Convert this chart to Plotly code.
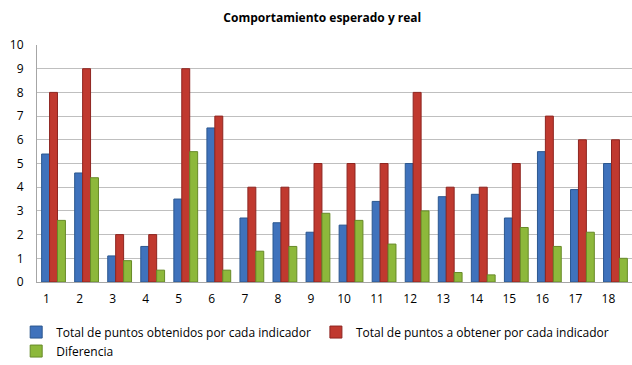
import plotly.graph_objects as go

categories = [str(i) for i in range(1, 19)]
obtenidos = [5.4, 4.6, 1.1, 1.5, 3.5, 6.5, 2.7, 2.5, 2.1, 2.4, 3.4, 5.0, 3.6, 3.7, 2.7, 5.5, 3.9, 5.0]
a_obtener = [8, 9, 2, 2, 9, 7, 4, 4, 5, 5, 5, 8, 4, 4, 5, 7, 6, 6]
diferencia = [2.6, 4.4, 0.9, 0.5, 5.5, 0.5, 1.3, 1.5, 2.9, 2.6, 1.6, 3.0, 0.4, 0.3, 2.3, 1.5, 2.1, 1.0]

series = [
    ("Total de puntos obtenidos por cada indicador", obtenidos, "#3F72BC", "#2B578F"),
    ("Total de puntos a obtener por cada indicador", a_obtener, "#C0392F", "#8E2520"),
    ("Diferencia", diferencia, "#8DB83B", "#678A28"),
]

fig = go.Figure()
for name, vals, col, edge in series:
    fig.add_trace(go.Bar(
        x=categories, y=vals, name=name,
        marker=dict(color=col, line=dict(color=edge, width=1)),
    ))

font = "Open Sans, Calibri, Carlito, sans-serif"
fig.update_layout(
    width=632, height=365,
    margin=dict(l=37, r=0, t=45, b=83, autoexpand=False),
    paper_bgcolor="white", plot_bgcolor="white",
    barmode="group", bargap=0.28, bargroupgap=0.0,
    title=dict(text="<b>Comportamiento esperado y real</b>", x=0.51, xanchor="center",
               y=0.95, yanchor="middle", font=dict(family=font, size=12, color="#000000")),
    font=dict(family=font, size=12, color="#000000"),
    xaxis=dict(showline=True, linecolor="#A6A6A6", ticks="", tickfont=dict(size=12),
               ticklabelshift=-7, ticklabelstandoff=6),
    yaxis=dict(range=[0, 10], dtick=1, showgrid=True, gridcolor="#BFBFBF", gridwidth=1,
               showline=True, linecolor="#A6A6A6", zeroline=False, ticks="",
               tickfont=dict(size=12), ticklabelstandoff=10),
    legend=dict(orientation="h", x=-0.035, xanchor="left", y=-0.15, yanchor="top",
                font=dict(size=12), traceorder="normal", itemwidth=30,
                tracegroupgap=0),
    showlegend=True,
)
fig.write_html("out.html")
